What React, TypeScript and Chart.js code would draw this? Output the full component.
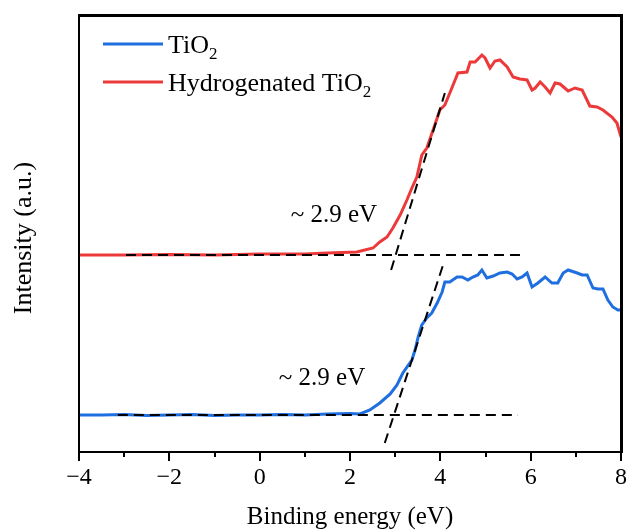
import React, { useEffect, useRef } from 'react';
import { Chart, registerables } from 'chart.js';

Chart.register(...registerables);

// ---- data ----
const xTickValues = [-4, -2, 0, 2, 4, 6, 8];
const xMinorStep = 1;

const hydroEnergy = [
  -4, -3, -2, -1, 0, 0.5, 1, 1.5, 2.15, 2.51, 2.66, 2.82, 2.95, 3.11, 3.26, 3.37, 3.48, 3.59,
  3.7, 3.84, 3.99, 4.1, 4.21, 4.39, 4.59, 4.66, 4.77, 4.92, 4.99, 5.1, 5.21, 5.32, 5.48,
  5.61, 5.76, 5.92, 6.03, 6.1, 6.21, 6.32, 6.43, 6.54, 6.65, 6.83, 6.98, 7.14, 7.31, 7.47,
  7.6, 7.8, 7.91, 8.0,
];
const hydroIntensity = [
  197, 197, 197.5, 197, 198, 198, 198, 199, 200, 204, 210, 215, 224, 237, 252, 264, 275, 297,
  304, 322, 342, 347, 359, 379, 380, 390, 390, 397, 394, 384, 391, 392, 385,
  375, 373, 372, 362, 364, 370, 365, 359, 369, 368, 361, 364, 362, 346, 345,
  342, 335, 329, 315,
];

const tio2Energy = [
  -4, -3.5, -3, -2.5, -2, -1.5, -1, -0.5, 0, 0.5, 1, 1.5, 2.0, 2.22, 2.44, 2.66, 2.89, 3.04,
  3.17, 3.37, 3.44, 3.51, 3.59, 3.7, 3.81, 3.93, 4.04, 4.1, 4.21, 4.37, 4.48, 4.61, 4.72,
  4.83, 4.92, 5.03, 5.17, 5.32, 5.48, 5.59, 5.7, 5.81, 5.92, 6.03, 6.16, 6.32, 6.47, 6.6,
  6.72, 6.83, 7.03, 7.14, 7.25, 7.38, 7.49, 7.6, 7.71, 7.82, 7.93, 8.0,
];
const tio2Intensity = [
  37, 37, 37.5, 36.5, 37, 37.5, 36.5, 37, 37, 37.5, 37, 38, 38.5, 38, 42, 49, 58, 67,
  79, 92, 102, 115, 127, 134, 139, 149, 160, 170, 170, 175, 175, 172, 175,
  177, 182, 174, 176, 179, 180, 178, 173, 175, 179, 165, 169, 175, 169, 169,
  179, 182, 179, 177, 177, 164, 163, 163, 152, 145, 142, 142,
];

// extrapolation guide lines (baseline + tangent)
const hydroBaseX = [-2.96, 5.85];
const hydroBaseY = [197, 197];
const hydroTanX = [2.91, 4.1];
const hydroTanY = [182, 359];
const tio2BaseX = [-3.14, 5.72];
const tio2BaseY = [37, 37];
const tio2TanX = [2.77, 4.06];
const tio2TanY = [9, 187];

const gapLabel = '~ 2.9 eV';
const hydroLabelPos = [1.645, 237];
const tio2LabelPos = [1.38, 74];

const legendNames = ['TiO', 'Hydrogenated TiO'];
const legendSub = '2';
const xTitle = 'Binding energy (eV)';
const yTitle = 'Intensity (a.u.)';

const BLUE = '#1f6fe0';
const RED = '#ec3a3a';
const FONT = '"Liberation Serif", "Times New Roman", serif';

const pts = (xs: number[], ys: number[]) => xs.map((x, i) => ({ x, y: ys[i] }));

const overlay = {
  id: 'overlay',
  afterDraw(chart: any) {
    const { ctx, chartArea: a, scales } = chart;
    const xs = scales.x;
    const ys = scales.y;
    ctx.save();
    ctx.setLineDash([]);
    ctx.fillStyle = '#000';
    const L = Math.round(a.left), R = Math.round(a.right), T = Math.round(a.top), B = Math.round(a.bottom);
    ctx.fillRect(L - 1, T - 1, R - L + 3, 3);
    ctx.fillRect(L - 1, B - 1, R - L + 3, 2);
    ctx.fillRect(L - 1, T - 1, 2, B - T + 2);
    ctx.fillRect(R - 1, T - 1, 3, B - T + 2);
    const min = xTickValues[0];
    const max = xTickValues[xTickValues.length - 1];
    for (let v = min; v <= max; v += xMinorStep) {
      const px = Math.round(xs.getPixelForValue(v));
      const major = xTickValues.includes(v);
      ctx.fillRect(px - 1, B, 2, major ? 9 : 5);
    }
    ctx.textAlign = 'center';
    ctx.textBaseline = 'middle';
    ctx.font = `25px ${FONT}`;
    ctx.fillText(xTitle, (a.left + a.right) / 2, 517);
    ctx.save();
    ctx.translate(24, 238);
    ctx.rotate(-Math.PI / 2);
    ctx.font = `26px ${FONT}`;
    ctx.fillText(yTitle, 0, 0);
    ctx.restore();

    ctx.font = `25px ${FONT}`;
    ctx.fillText(gapLabel, xs.getPixelForValue(hydroLabelPos[0]), ys.getPixelForValue(hydroLabelPos[1]));
    ctx.fillText(gapLabel, xs.getPixelForValue(tio2LabelPos[0]), ys.getPixelForValue(tio2LabelPos[1]));

    const colors = [BLUE, RED];
    const rowsY = [44, 82];
    legendNames.forEach((name, i) => {
      const y = rowsY[i];
      ctx.strokeStyle = colors[i];
      ctx.lineWidth = 3;
      ctx.beginPath();
      ctx.moveTo(103, y);
      ctx.lineTo(163, y);
      ctx.stroke();
      ctx.textAlign = 'left';
      ctx.textBaseline = 'alphabetic';
      ctx.font = `26px ${FONT}`;
      ctx.fillText(name, 168, y + 9);
      const w = ctx.measureText(name).width;
      ctx.font = `17px ${FONT}`;
      ctx.fillText(legendSub, 168 + w, y + 15);
    });
    ctx.restore();
  },
};

export default function App() {
  const ref = useRef<HTMLCanvasElement>(null);
  useEffect(() => {
    if (!ref.current) return;
    const dash = (xs: number[], ys: number[]) => ({
      data: pts(xs, ys),
      borderColor: '#000',
      borderWidth: 2,
      borderDash: [10, 6],
      pointRadius: 0,
      fill: false,
    });
    const chart = new Chart(ref.current, {
      type: 'line',
      data: {
        datasets: [
          dash(hydroBaseX, hydroBaseY),
          dash(hydroTanX, hydroTanY),
          dash(tio2BaseX, tio2BaseY),
          dash(tio2TanX, tio2TanY),
          {
            label: 'TiO2',
            data: pts(tio2Energy, tio2Intensity),
            borderColor: BLUE,
            borderWidth: 3,
            pointRadius: 0,
            tension: 0,
            fill: false,
          },
          {
            label: 'Hydrogenated TiO2',
            data: pts(hydroEnergy, hydroIntensity),
            borderColor: RED,
            borderWidth: 3,
            pointRadius: 0,
            tension: 0,
            fill: false,
          },
        ] as any,
      },
      options: {
        responsive: false,
        animation: false,
        layout: { padding: { left: 79, right: 6, top: 15, bottom: 0 } },
        plugins: { legend: { display: false }, tooltip: { enabled: false } },
        scales: {
          x: {
            type: 'linear',
            min: -4,
            max: 8,
            grid: { display: false, drawTicks: false },
            border: { display: false },
            ticks: {
              stepSize: 2,
              padding: 11,
              color: '#000',
              font: { family: FONT, size: 24 },
              callback: (v: any) => String(v).replace('-', '\u2212'),
            },
            afterFit: (s: any) => {
              s.height = 79;
              s.paddingLeft = 0;
              s.paddingRight = 0;
            },
          },
          y: {
            type: 'linear',
            min: 0,
            max: 437,
            display: false,
          },
        },
      },
      plugins: [overlay],
    });
    return () => chart.destroy();
  }, []);
  return (
    <div style={{ position: 'absolute', left: 0, top: 0, width: 627, height: 531, background: '#fff' }}>
      <canvas ref={ref} width={627} height={531} />
    </div>
  );
}
